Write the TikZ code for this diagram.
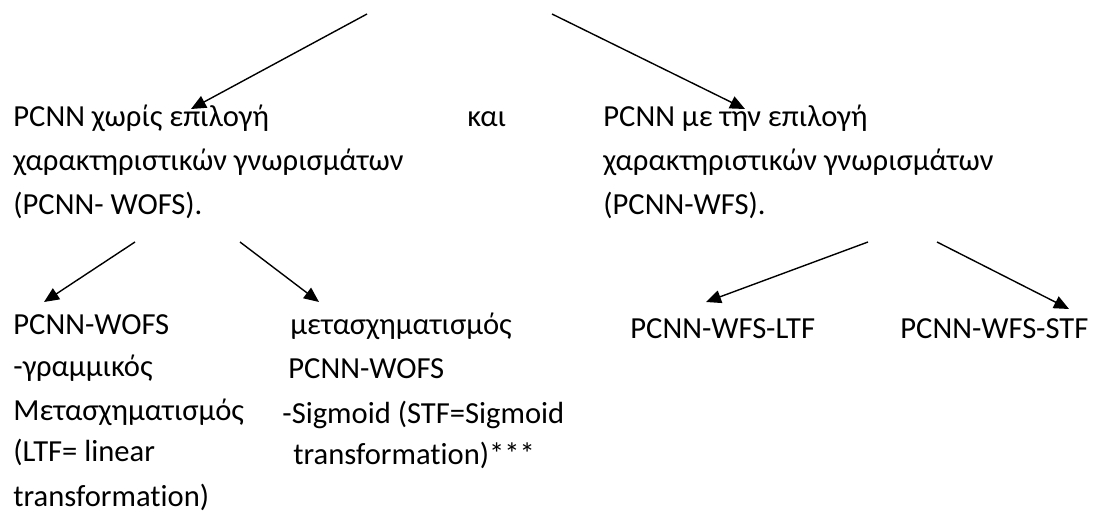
\documentclass[tikz,border=0pt]{standalone}
\usepackage{fontspec}
\setmainfont{Carlito}[Ligatures=NoCommon]
\usetikzlibrary{arrows.meta}
\tikzset{
  txt/.style={anchor=base west, inner sep=0pt, font=\fontsize{15.3}{18}\selectfont},
  arr/.style={draw=black, line width=0.7pt, -{Triangle[length=7.5pt,width=6.5pt]}}
}
\begin{document}
\begin{tikzpicture}[x=0.5pt,y=-0.5pt]
\useasboundingbox (0,0) rectangle (1098,513);
% top level texts
\node[txt] (a1) at (13,127) {PCNN χωρίς επιλογή};
\node[txt] (a2) at (13,171) {χαρακτηριστικών γνωρισμάτων};
\node[txt] (a3) at (13,215) {(PCNN- WOFS).};
\node[txt] (kai) at (467,127) {και};
\node[txt] (b1) at (603,127) {PCNN με την επιλογή};
\node[txt] (b2) at (603,171) {χαρακτηριστικών γνωρισμάτων};
\node[txt] (b3) at (603,215) {(PCNN-WFS).};
% bottom left
\node[txt] (c1) at (13,335) {PCNN-WOFS};
\node[txt] (c2) at (13,377) {-γραμμικός};
\node[txt] (c3) at (13,420) {Μετασχηματισμός};
\node[txt] (c4) at (13,461) {(LTF= linear};
\node[txt] (c5) at (13,506) {transformation)};
% bottom middle
\node[txt] (d1) at (290,335) {μετασχηματισμός};
\node[txt] (d2) at (288,379) {PCNN-WOFS};
\node[txt] (d3) at (282,423) {-Sigmoid (STF=Sigmoid};
\node[txt] (d4) at (293,464) {transformation)***};
% bottom right
\node[txt] (e1) at (630,338) {PCNN-WFS-LTF};
\node[txt] (f1) at (900,338) {PCNN-WFS-STF};
% connector ends
\coordinate (sA) at (367,14);  \coordinate (tA) at (191,109);
\coordinate (sB) at (552,14);  \coordinate (tB) at (745,109);
\coordinate (sC) at (135,242); \coordinate (tC) at (44,302);
\coordinate (sD) at (240,242); \coordinate (tD) at (319,302);
\coordinate (sE) at (868,242); \coordinate (tE) at (706,302);
\coordinate (sF) at (937,242); \coordinate (tF) at (1069,309);
\draw[arr] (sA) -- (tA);
\draw[arr] (sB) -- (tB);
\draw[arr] (sC) -- (tC);
\draw[arr] (sD) -- (tD);
\draw[arr] (sE) -- (tE);
\draw[arr] (sF) -- (tF);
\end{tikzpicture}
\end{document}
